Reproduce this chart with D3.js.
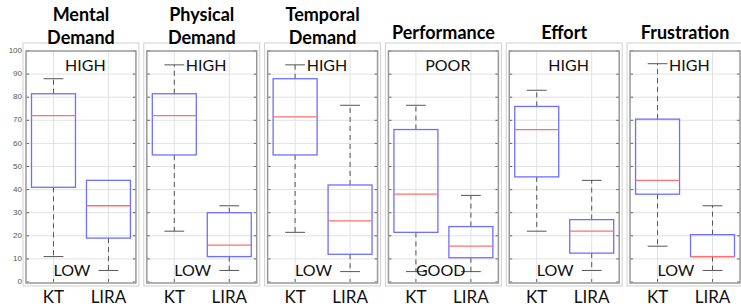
<!DOCTYPE html>
<html>

<head>
  <meta http-equiv="content-type" content="text/html; charset=utf-8">
  <title>NASA-TLX: KT vs LIRA</title>
  <style>
    body { margin: 0; background: #fff; }
    .title { font-family: Lato, "Open Sans", sans-serif; font-weight: bold; font-size: 18px; text-anchor: middle; fill: #000; }
    .note { font-family: Lato, "Open Sans", sans-serif; font-size: 16px; fill: #111; }
    .group_label { font-family: Lato, "Open Sans", sans-serif; font-size: 17px; text-anchor: middle; fill: #111; }
    .tick_label { font-family: "Liberation Sans", sans-serif; font-size: 8px; fill: #555; text-anchor: end; dominant-baseline: middle; }
    .grid { stroke: #e2e2e2; stroke-width: 1; }
    .tick { stroke: #666; stroke-width: 1; }
    .frame { fill: none; stroke: #999; stroke-width: 1.5; }
    .outer { fill: none; stroke: #d0d0d0; stroke-width: 1; }
    .box { fill: none; stroke: #6f6fff; stroke-width: 1.3; }
    .median { stroke: #ff6f6f; stroke-width: 1.3; }
    .whisker { stroke: #555; stroke-width: 1; stroke-dasharray: 5 4; }
    .cap { stroke: #555; stroke-width: 1; }
  </style>
</head>

<body>
  <svg id="canvas"></svg>
  <script src="https://cdn.jsdelivr.net/npm/d3@7"></script>
  <script>

    // one entry per panel
    const titles = [["Mental", "Demand"], ["Physical", "Demand"], ["Temporal", "Demand"], ["Performance"], ["Effort"], ["Frustration"]];
    const high_labels = ["HIGH", "HIGH", "HIGH", "POOR", "HIGH", "HIGH"];
    const low_labels = ["LOW", "LOW", "LOW", "GOOD", "LOW", "LOW"];
    const groups = ["KT", "LIRA"];
    const y_ticks = [0, 10, 20, 30, 40, 50, 60, 70, 80, 90, 100];

    // [lower whisker, q1, median, q3, upper whisker]
    const kt_stats = [
      [11, 41, 72, 81.5, 88],
      [22, 55, 72, 81.5, 94],
      [21.5, 55, 71.5, 88, 94],
      [4.5, 21.5, 38, 66, 76.5],
      [22, 45.5, 66, 76, 83],
      [15.5, 38, 44, 70.5, 94.5]
    ];
    const lira_stats = [
      [5, 19, 33, 44, 44],
      [5, 11, 16, 30, 33],
      [4.5, 12, 26.5, 42, 76.5],
      [4.5, 10.5, 15.5, 24, 37.5],
      [5, 12.5, 22, 27, 44],
      [5, 11, 11, 20.5, 33]
    ];

    const dims = { width: 741, height: 307, left: 26, right: 740, top: 51, bottom: 283 };

    const svg = d3.select("svg#canvas")
      .attr("width", dims.width)
      .attr("height", dims.height);

    const x_panel = d3.scaleBand()
      .domain(d3.range(titles.length))
      .range([dims.left, dims.right])
      .paddingInner(0.09);
    const bw = x_panel.bandwidth();

    const x_group = d3.scalePoint()
      .domain(groups)
      .range([0, bw])
      .padding(0.5);
    const box_w = bw * 0.4;
    const cap_w = bw * 0.18;

    const y = d3.scaleLinear()
      .domain([0, 100])
      .range([dims.bottom - 1, dims.top]);

    const panels = svg.selectAll(".panel")
      .data(titles.map((t, i) => ({
        i, title: t, high: high_labels[i], low: low_labels[i],
        boxes: [{ g: "KT", s: kt_stats[i] }, { g: "LIRA", s: lira_stats[i] }]
      })))
      .enter().append("g")
      .attr("class", "panel")
      .attr("transform", p => "translate(" + x_panel(p.i) + ",0)");

    // outer screenshot frame
    panels.append("rect")
      .attr("class", "outer")
      .attr("x", -3).attr("y", y(100) - 8)
      .attr("width", bw + 6).attr("height", y(0) - y(100) + 12);

    // grid
    panels.each(function () {
      const g = d3.select(this);
      g.selectAll(".grid_h")
        .data(y_ticks.slice(1, -1))
        .enter().append("line")
        .attr("class", "grid")
        .attr("x1", 0).attr("x2", bw)
        .attr("y1", v => y(v)).attr("y2", v => y(v));
      g.selectAll(".grid_v")
        .data(groups)
        .enter().append("line")
        .attr("class", "grid")
        .attr("x1", k => x_group(k)).attr("x2", k => x_group(k))
        .attr("y1", y(100)).attr("y2", y(0));
      g.selectAll(".tick_l")
        .data(y_ticks)
        .enter().append("line")
        .attr("class", "tick")
        .attr("x1", 0).attr("x2", 3)
        .attr("y1", v => y(v)).attr("y2", v => y(v));
      g.selectAll(".tick_r")
        .data(y_ticks)
        .enter().append("line")
        .attr("class", "tick")
        .attr("x1", bw - 3).attr("x2", bw)
        .attr("y1", v => y(v)).attr("y2", v => y(v));
      g.selectAll(".tick_b")
        .data(groups)
        .enter().append("line")
        .attr("class", "tick")
        .attr("x1", k => x_group(k)).attr("x2", k => x_group(k))
        .attr("y1", y(0)).attr("y2", y(0) - 3);
    });

    panels.append("rect")
      .attr("class", "frame")
      .attr("x", 0).attr("y", y(100))
      .attr("width", bw).attr("height", y(0) - y(100) + 1);

    // boxes
    const boxes = panels.selectAll(".bp")
      .data(p => p.boxes)
      .enter().append("g")
      .attr("class", "bp")
      .attr("transform", b => "translate(" + x_group(b.g) + ",0)");

    boxes.append("line")
      .attr("class", "whisker")
      .attr("x1", 0).attr("x2", 0)
      .attr("y1", b => y(b.s[3])).attr("y2", b => y(b.s[4]));
    boxes.append("line")
      .attr("class", "whisker")
      .attr("x1", 0).attr("x2", 0)
      .attr("y1", b => y(b.s[1])).attr("y2", b => y(b.s[0]));
    boxes.filter(b => b.s[4] > b.s[3]).append("line")
      .attr("class", "cap")
      .attr("x1", -cap_w / 2).attr("x2", cap_w / 2)
      .attr("y1", b => y(b.s[4])).attr("y2", b => y(b.s[4]));
    boxes.append("line")
      .attr("class", "cap")
      .attr("x1", -cap_w / 2).attr("x2", cap_w / 2)
      .attr("y1", b => y(b.s[0])).attr("y2", b => y(b.s[0]));
    boxes.append("rect")
      .attr("class", "box")
      .attr("x", -box_w / 2).attr("width", box_w)
      .attr("y", b => y(b.s[3]))
      .attr("height", b => y(b.s[1]) - y(b.s[3]));
    boxes.append("line")
      .attr("class", "median")
      .attr("x1", -box_w / 2).attr("x2", box_w / 2)
      .attr("y1", b => y(b.s[2])).attr("y2", b => y(b.s[2]));

    // annotations
    panels.append("text")
      .attr("class", "note")
      .attr("text-anchor", "middle")
      .attr("x", bw * 0.54)
      .attr("y", y(100) + 20)
      .text(p => p.high);
    panels.append("text")
      .attr("class", "note")
      .attr("x", x_group("KT"))
      .attr("y", y(0) - 6)
      .text(p => p.low);

    // titles
    panels.append("text")
      .attr("class", "title")
      .attr("x", bw / 2)
      .attr("y", p => p.title.length > 1 ? 21 : 39)
      .selectAll("tspan")
      .data(p => p.title)
      .enter().append("tspan")
      .attr("x", bw / 2)
      .attr("dy", (_, j) => j ? 23 : 0)
      .text(t => t);

    // group labels
    panels.selectAll(".group_label")
      .data(groups)
      .enter().append("text")
      .attr("class", "group_label")
      .attr("x", k => x_group(k))
      .attr("y", 303)
      .text(k => k);

    // y axis labels on the first panel only
    svg.append("g")
      .selectAll(".tick_label")
      .data(y_ticks)
      .enter().append("text")
      .attr("class", "tick_label")
      .attr("x", dims.left - 4)
      .attr("y", v => y(v))
      .text(v => v);

  </script>
</body>

</html>
